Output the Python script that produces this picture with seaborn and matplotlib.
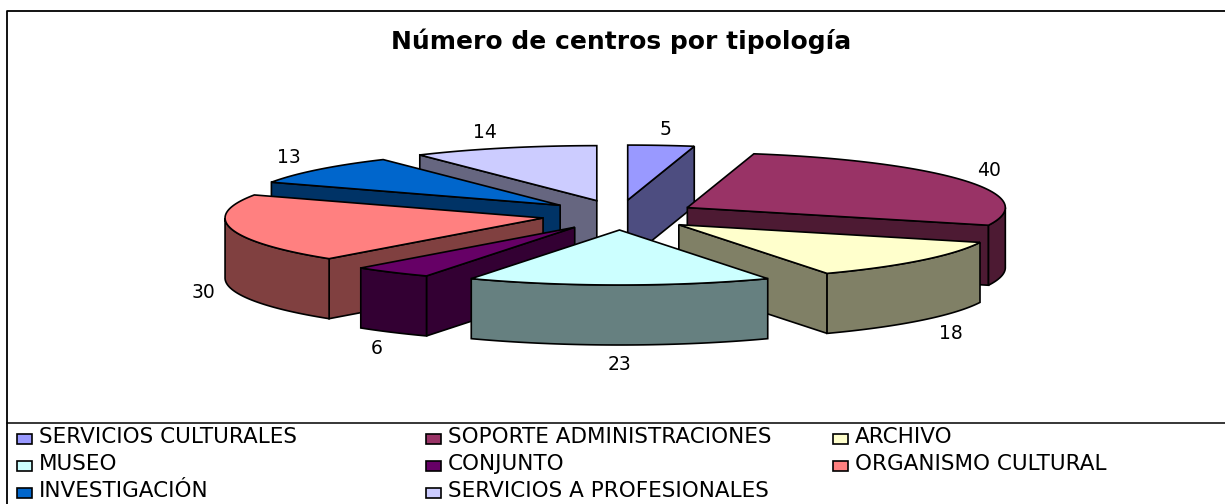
import numpy as np
import matplotlib
matplotlib.use("Agg")
import matplotlib.pyplot as plt
import seaborn as sns

# ---- data ----
categories = ["SERVICIOS CULTURALES", "SOPORTE ADMINISTRACIONES", "ARCHIVO", "MUSEO",
              "CONJUNTO", "ORGANISMO CULTURAL", "INVESTIGACIÓN", "SERVICIOS A PROFESIONALES"]
values = [5, 40, 18, 23, 6, 30, 13, 14]
title = "Número de centros por tipología"
hex_colors = ["#9999FF", "#993366", "#FFFFCC", "#CCFFFF", "#660066", "#FF8080", "#0066CC", "#CCCCFF"]

# ---- style / layout ----
W, H = 1225, 504
CX, CY = 619.5, 215
A, B = 318, 55
EXPL_X, EXPL_Y = 78, 15
DEPTH = 60
DRAW_ORDER = [0, 7, 6, 5, 4, 1, 2, 3]
LW = 1.2
LABEL_NUDGE = [(1, 3), (-3, -1), (6, 1), (0, 0), (3, 1), (3, 0), (-5, 0), (-10, 3)]

sns.set_theme(style="white")
plt.rcParams["font.family"] = ["DejaVu Sans"]
palette = sns.color_palette(hex_colors)
shade = [tuple(c * 0.5 for c in col) for col in palette]

fig = plt.figure(figsize=(W / 100, H / 100), dpi=100, facecolor="white")
ax = fig.add_axes([0, 0, 1, 1])
ax.set_xlim(0, W)
ax.set_ylim(H, 0)
ax.axis("off")

total = sum(values)
edges = np.concatenate([[0], np.cumsum(values)]) / total * 2 * np.pi


def rim(t, apex):
    return apex[0] + A * np.sin(t), apex[1] - B * np.cos(t)


def wall(p, q, color):
    xs = [p[0], q[0], q[0], p[0]]
    ys = [p[1], q[1], q[1] + DEPTH, p[1] + DEPTH]
    ax.fill(xs, ys, facecolor=color, edgecolor="black", lw=LW, joinstyle="miter")


for i in DRAW_ORDER:
    t0, t1 = edges[i], edges[i + 1]
    mid = (t0 + t1) / 2
    apex = (CX + EXPL_X * np.sin(mid), CY - EXPL_Y * np.cos(mid))
    # radial side walls that face the viewer
    if np.sin(t0) < -1e-6:
        wall(apex, rim(t0, apex), shade[i])
    if np.sin(t1) > 1e-6:
        wall(apex, rim(t1, apex), shade[i])
    # outer curved wall (front half only)
    lo, hi = max(t0, np.pi / 2), min(t1, 3 * np.pi / 2)
    if hi > lo:
        t = np.linspace(lo, hi, 60)
        x, y = rim(t, apex)
        ax.fill(np.r_[x, x[::-1]], np.r_[y, y[::-1] + DEPTH],
                facecolor=shade[i], edgecolor="black", lw=LW)
    # top face
    t = np.linspace(t0, t1, 80)
    x, y = rim(t, apex)
    ax.fill(np.r_[apex[0], x], np.r_[apex[1], y],
            facecolor=palette[i], edgecolor="black", lw=LW, joinstyle="miter")
    # value label
    front = DEPTH if np.cos(mid) < 0 and abs(np.sin(mid)) < 0.99 or 3.5 < mid < 5 else 0
    lx, ly = rim(mid, apex)
    ax.text(lx + 32 * np.sin(mid) + LABEL_NUDGE[i][0],
            ly + front - 19 * np.cos(mid) + LABEL_NUDGE[i][1], str(values[i]),
            ha="center", va="center", fontsize=13.5, color="black")

# frame and legend separator (open on the right, running off the picture)
ax.plot([7, 7, W], [H, 11, 11], color="black", lw=1.3)
ax.plot([7, W], [423, 423], color="black", lw=1.1)

ax.text(621, 41, title, ha="center", va="center", fontsize=18, fontweight="bold", color="black")

# legend: three columns, filled row by row
COL_X = [17, 426, 833]
ROW_Y = [437, 464, 491]
for i, name in enumerate(categories):
    r, c = divmod(i, 3)
    ax.add_patch(plt.Rectangle((COL_X[c], ROW_Y[r] - 3), 15, 9.5, facecolor=palette[i],
                               edgecolor="black", lw=1.2))
    ax.text(COL_X[c] + 22, ROW_Y[r], name, ha="left", va="center", fontsize=15.5, color="black")

fig.savefig("out.png", dpi=100)
